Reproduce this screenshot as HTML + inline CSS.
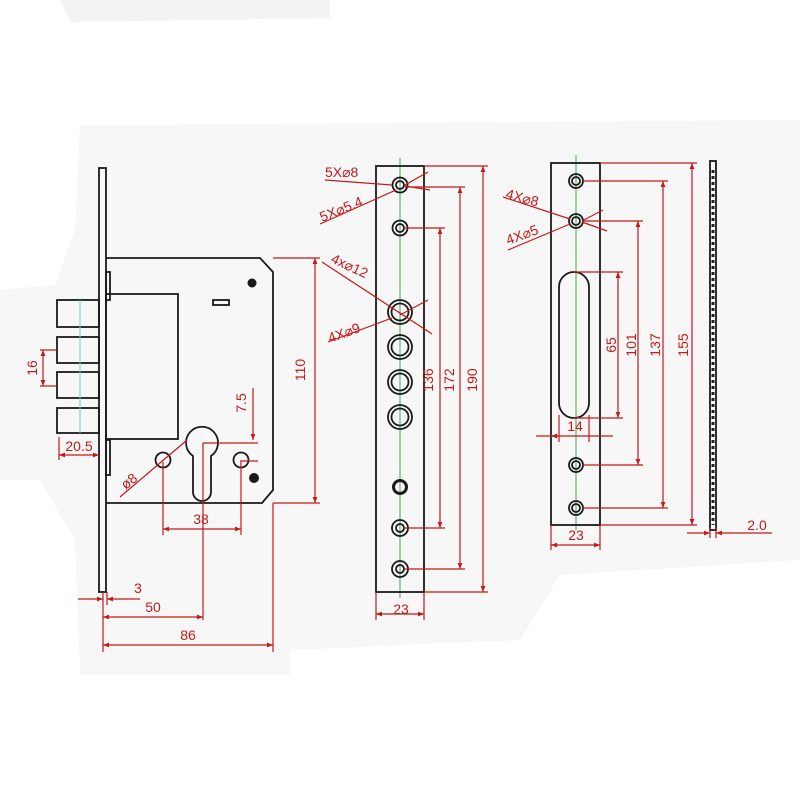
<!DOCTYPE html>
<html><head><meta charset="utf-8"><style>
html,body{margin:0;padding:0;background:#fff;}
svg{display:block}
text{font-family:"Liberation Sans",sans-serif;fill:#c41a1a;font-size:14px}
</style></head><body>
<svg width="800" height="800" viewBox="0 0 800 800" xmlns="http://www.w3.org/2000/svg">
<rect width="800" height="800" fill="#fff"/>
<path d="M80,125 L800,120 L800,560 L560,575 L520,640 L290,650 L290,675 L80,675 L75,540 L40,480 L0,480 L0,290 L55,285 L75,230 Z" fill="#f7f7f7"/>
<path d="M60,0 L330,0 L330,18 L70,22 Z" fill="#f3f3f3"/>
<defs>
<marker id="a" viewBox="0 0 10 10" refX="10" refY="5" markerWidth="7" markerHeight="5" orient="auto-start-reverse"><path d="M0,1 L10,5 L0,9 Z" fill="#c41a1a"/></marker>
</defs>
<!-- LOCK BODY -->
<g fill="none" stroke="#1a1a1a" stroke-width="1.8">
<rect x="99" y="168" width="7" height="424"/>
<path d="M106,258 L260,258 L273,272 L273,490 L262,503 L106,503"/>
<rect x="106" y="294" width="72" height="145"/>
<rect x="106" y="272" width="4" height="28"/>
<rect x="106" y="440" width="4" height="35"/>
<rect x="57" y="300" width="42" height="27"/>
<rect x="57" y="337" width="42" height="26"/>
<rect x="57" y="372" width="42" height="26"/>
<rect x="57" y="408" width="42" height="25"/>
<rect x="213" y="300" width="16" height="5"/>
<path d="M193,456 A16,16 0 1 1 211,456 L211,492 A9,9 0 0 1 193,492 Z"/>
<circle cx="163" cy="460" r="7.5"/>
<circle cx="241" cy="460" r="7.5"/>
</g>
<line x1="80" y1="300" x2="80" y2="433" stroke="#6cc" stroke-width="1"/>
<circle cx="252" cy="283" r="4.5" fill="#1a1a1a"/>
<circle cx="254" cy="478" r="5" fill="#1a1a1a"/>
<!-- lock dims -->
<g stroke="#c41a1a" stroke-width="1.2" fill="none">
<line x1="273" y1="258" x2="320" y2="258"/><line x1="273" y1="503" x2="320" y2="503"/>
<line x1="315" y1="258" x2="315" y2="503" marker-start="url(#a)" marker-end="url(#a)"/>
<line x1="253" y1="388" x2="253" y2="440" marker-end="url(#a)"/>
<line x1="203" y1="443" x2="258" y2="443"/><line x1="240" y1="461" x2="258" y2="461"/>
<line x1="163" y1="462" x2="163" y2="535"/><line x1="241" y1="462" x2="241" y2="535"/>
<line x1="163" y1="529" x2="241" y2="529" marker-start="url(#a)" marker-end="url(#a)"/>
<line x1="120" y1="497" x2="187" y2="440"/>
<line x1="40" y1="350" x2="57" y2="350"/><line x1="40" y1="386" x2="57" y2="386"/>
<line x1="43" y1="350" x2="43" y2="386" marker-start="url(#a)" marker-end="url(#a)"/>
<line x1="59" y1="437" x2="59" y2="460"/>
<line x1="59" y1="455" x2="99" y2="455" marker-start="url(#a)" marker-end="url(#a)"/>
<line x1="103" y1="592" x2="103" y2="652"/><line x1="107" y1="592" x2="107" y2="605"/>
<line x1="203" y1="443" x2="203" y2="620"/><line x1="273" y1="503" x2="273" y2="652"/>
<line x1="78" y1="599" x2="103" y2="599" marker-end="url(#a)"/>
<line x1="140" y1="599" x2="107" y2="599" marker-end="url(#a)"/>
<line x1="103" y1="617" x2="203" y2="617" marker-start="url(#a)" marker-end="url(#a)"/>
<line x1="103" y1="645" x2="273" y2="645" marker-start="url(#a)" marker-end="url(#a)"/>
</g>
<text x="305" y="370" transform="rotate(-90 305 370)" text-anchor="middle">110</text>
<text x="246" y="403" transform="rotate(-90 246 403)" text-anchor="middle">7.5</text>
<text x="201" y="524" text-anchor="middle">38</text>
<text x="132" y="485" transform="rotate(-38 132 485)" text-anchor="middle">ø8</text>
<text x="37" y="368" transform="rotate(-90 37 368)" text-anchor="middle" font-size="13">16</text>
<text x="79" y="451" text-anchor="middle">20.5</text>
<text x="138" y="593" text-anchor="middle">3</text>
<text x="153" y="612" text-anchor="middle">50</text>
<text x="188" y="640" text-anchor="middle">86</text>

<!-- PLATE 2 -->
<line x1="400" y1="158" x2="400" y2="598" stroke="#4a4" stroke-width="1"/>
<g fill="none" stroke="#1a1a1a" stroke-width="1.8">
<rect x="376" y="166" width="48" height="426"/>
<circle cx="400" cy="185" r="7.5"/><circle cx="400" cy="185" r="4"/>
<circle cx="400" cy="228" r="7.5"/><circle cx="400" cy="228" r="4"/>
<circle cx="400" cy="312" r="12"/><circle cx="400" cy="312" r="8.5"/>
<circle cx="400" cy="347" r="12"/><circle cx="400" cy="347" r="8.5"/>
<circle cx="400" cy="382" r="12"/><circle cx="400" cy="382" r="8.5"/>
<circle cx="400" cy="417" r="12"/><circle cx="400" cy="417" r="8.5"/>
<circle cx="400" cy="487" r="6.5" stroke-width="3"/>
<circle cx="400" cy="528" r="8"/><circle cx="400" cy="528" r="4"/>
<circle cx="400" cy="569" r="8"/><circle cx="400" cy="569" r="4"/>
</g>
<g stroke="#c41a1a" stroke-width="1.2" fill="none">
<line x1="424" y1="166" x2="488" y2="166"/><line x1="424" y1="592" x2="488" y2="592"/>
<line x1="483" y1="166" x2="483" y2="592" marker-start="url(#a)" marker-end="url(#a)"/>
<line x1="405" y1="187" x2="465" y2="187"/><line x1="405" y1="569" x2="465" y2="569"/>
<line x1="460" y1="187" x2="460" y2="569" marker-start="url(#a)" marker-end="url(#a)"/>
<line x1="405" y1="228" x2="445" y2="228"/><line x1="405" y1="528" x2="445" y2="528"/>
<line x1="440" y1="228" x2="440" y2="528" marker-start="url(#a)" marker-end="url(#a)"/>
<line x1="376" y1="592" x2="376" y2="620"/><line x1="424" y1="592" x2="424" y2="620"/>
<line x1="376" y1="614" x2="424" y2="614" marker-start="url(#a)" marker-end="url(#a)"/>
<line x1="325" y1="180" x2="392" y2="185"/>
<line x1="320" y1="224" x2="396" y2="190"/>
<line x1="428" y1="172" x2="405" y2="185"/><line x1="430" y1="190" x2="405" y2="186"/>
<line x1="322" y1="262" x2="432" y2="334"/>
<line x1="328" y1="342" x2="392" y2="318"/><line x1="428" y1="300" x2="400" y2="315"/>
</g>
<text x="325" y="177">5X⌀8</text>
<text x="322" y="222" transform="rotate(-22 322 222)">5X⌀5.4</text>
<text x="330" y="262" transform="rotate(25 330 262)">4x⌀12</text>
<text x="330" y="343" transform="rotate(-20 330 343)">4X⌀9</text>
<text x="433" y="380" transform="rotate(-90 433 380)" text-anchor="middle">136</text>
<text x="454" y="380" transform="rotate(-90 454 380)" text-anchor="middle">172</text>
<text x="477" y="380" transform="rotate(-90 477 380)" text-anchor="middle">190</text>
<text x="401" y="614" text-anchor="middle" font-size="15">23</text>

<!-- PLATE 3 -->
<line x1="576" y1="155" x2="576" y2="530" stroke="#4a4" stroke-width="1"/>
<g fill="none" stroke="#1a1a1a" stroke-width="1.8">
<rect x="551" y="163" width="49" height="362"/>
<circle cx="576" cy="181" r="7"/><circle cx="576" cy="181" r="4"/>
<circle cx="576" cy="221" r="7"/><circle cx="576" cy="221" r="4"/>
<circle cx="576" cy="465" r="7"/><circle cx="576" cy="465" r="4"/>
<circle cx="576" cy="508" r="7"/><circle cx="576" cy="508" r="4"/>
<rect x="559" y="272" width="30" height="146" rx="15"/>
<rect x="710" y="161" width="6" height="369"/>
</g>
<line x1="713" y1="170" x2="713" y2="525" stroke="#222" stroke-width="3" stroke-dasharray="3,3"/>
<g stroke="#c41a1a" stroke-width="1.2" fill="none">
<line x1="600" y1="163" x2="697" y2="163"/><line x1="600" y1="525" x2="697" y2="525"/>
<line x1="692" y1="163" x2="692" y2="525" marker-start="url(#a)" marker-end="url(#a)"/>
<line x1="583" y1="181" x2="668" y2="181"/><line x1="583" y1="508" x2="668" y2="508"/>
<line x1="663" y1="181" x2="663" y2="508" marker-start="url(#a)" marker-end="url(#a)"/>
<line x1="583" y1="221" x2="643" y2="221"/><line x1="583" y1="465" x2="643" y2="465"/>
<line x1="638" y1="221" x2="638" y2="465" marker-start="url(#a)" marker-end="url(#a)"/>
<line x1="574" y1="272" x2="623" y2="272"/><line x1="574" y1="418" x2="623" y2="418"/>
<line x1="618" y1="272" x2="618" y2="418" marker-start="url(#a)" marker-end="url(#a)"/>
<line x1="536" y1="436" x2="613" y2="436"/>
<line x1="551" y1="436" x2="559" y2="436" marker-start="url(#a)"/>
<line x1="559" y1="415" x2="559" y2="442"/><line x1="589" y1="415" x2="589" y2="442"/>
<line x1="551" y1="525" x2="551" y2="550"/><line x1="600" y1="525" x2="600" y2="550"/>
<line x1="551" y1="545" x2="600" y2="545" marker-start="url(#a)" marker-end="url(#a)"/>
<line x1="687" y1="533" x2="710" y2="533" marker-end="url(#a)"/>
<line x1="772" y1="533" x2="716" y2="533" marker-end="url(#a)"/>
<line x1="710" y1="528" x2="710" y2="538"/><line x1="716" y1="528" x2="716" y2="538"/>
<line x1="503" y1="197" x2="570" y2="219"/>
<line x1="508" y1="250" x2="570" y2="224"/>
<line x1="603" y1="210" x2="582" y2="221"/><line x1="607" y1="231" x2="582" y2="222"/>
</g>
<text x="505" y="198" transform="rotate(15 505 198)">4X⌀8</text>
<text x="508" y="245" transform="rotate(-20 508 245)">4X⌀5</text>
<text x="616" y="345" transform="rotate(-90 616 345)" text-anchor="middle">65</text>
<text x="636" y="345" transform="rotate(-90 636 345)" text-anchor="middle">101</text>
<text x="660" y="345" transform="rotate(-90 660 345)" text-anchor="middle">137</text>
<text x="688" y="345" transform="rotate(-90 688 345)" text-anchor="middle">155</text>
<text x="575" y="431" text-anchor="middle" font-size="15">14</text>
<text x="576" y="540" text-anchor="middle" font-size="15">23</text>
<text x="757" y="530" text-anchor="middle" font-size="15">2.0</text>
</svg>
</body></html>
